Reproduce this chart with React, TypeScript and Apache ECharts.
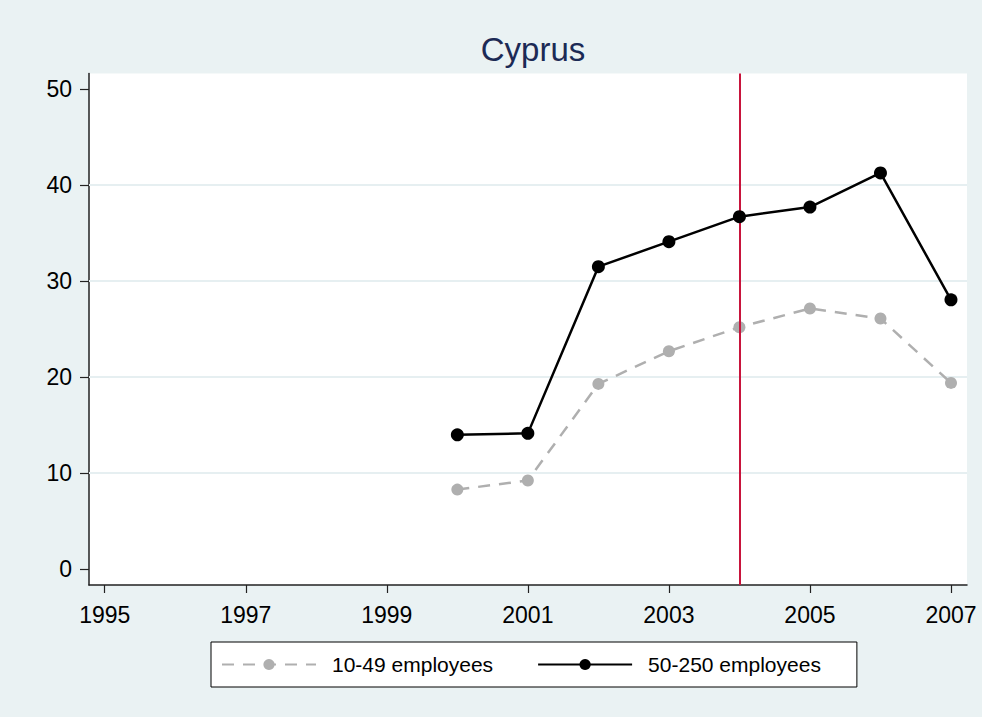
import React, { useEffect, useRef } from "react";
import * as echarts from "echarts";

const years = [2000, 2001, 2002, 2003, 2004, 2005, 2006, 2007];
const small = [8.3, 9.25, 19.3, 22.7, 25.2, 27.15, 26.1, 19.4];
const medium = [14.0, 14.15, 31.5, 34.1, 36.7, 37.7, 41.25, 28.05];
const xTicks = [1995, 1997, 1999, 2001, 2003, 2005, 2007];
const yTicks = [0, 10, 20, 30, 40, 50];
const gridValues = [10, 20, 30, 40];
const refYear = 2004;
const title = "Cyprus";
const names = ["10-49 employees", "50-250 employees"];

const FONT = "'Liberation Sans', Arial, Helvetica, sans-serif";

export default function App() {
  const ref = useRef<HTMLDivElement>(null);
  useEffect(() => {
    if (!ref.current) return;
    const chart = echarts.init(ref.current, null, { renderer: "svg" });
    chart.setOption({
      animation: false,
      backgroundColor: "#eaf2f3",
      textStyle: { fontFamily: FONT },
      title: {
        text: title,
        left: 528,
        top: 28,
        textAlign: "center",
        textStyle: { fontSize: 33, fontWeight: "normal", color: "#1c2a55", fontFamily: FONT },
      },
      grid: { left: 89, right: 15, top: 73.5, bottom: 132, containLabel: false, outerBoundsMode: "none", backgroundColor: "#fff", show: true, borderWidth: 0 },
      legend: {
        data: names,
        left: 211,
        top: 642,
        orient: "horizontal",
        backgroundColor: "#fff",
        borderColor: "#000",
        borderWidth: 1,
        borderRadius: 0,
        padding: [12, 36, 12, 10],
        itemWidth: 94,
        itemHeight: 14,
        itemGap: 44,
        textStyle: { fontSize: 21, color: "#000", fontFamily: FONT, padding: [0, 0, 0, 11] },
      },
      xAxis: {
        type: "value",
        min: 1994.777,
        max: 2007.227,
        axisLine: { show: true, onZero: false, lineStyle: { color: "#222", width: 1.5 } },
        axisTick: { show: true, length: 8, customValues: xTicks, lineStyle: { color: "#222", width: 1.2 } },
        axisLabel: { customValues: xTicks, formatter: (v: number) => String(v), fontSize: 23, color: "#000", margin: 18, fontFamily: FONT },
        splitLine: { show: false },
      },
      yAxis: {
        type: "value",
        min: -1.63,
        max: 51.6,
        axisLine: { show: true, onZero: false, lineStyle: { color: "#222", width: 1.5 } },
        axisTick: { show: true, length: 9, customValues: yTicks, lineStyle: { color: "#222", width: 1.2 } },
        axisLabel: { customValues: yTicks, formatter: (v: number) => String(v), fontSize: 23, color: "#000", margin: 17, fontFamily: FONT },
        splitLine: { show: false },
      },
      series: [
        {
          name: "grid",
          type: "line",
          data: [],
          z: 1,
          markLine: {
            silent: true,
            z: 1,
            symbol: "none",
            label: { show: false },
            lineStyle: { color: "#e6eff1", width: 2, type: "solid" },
            data: gridValues.map((v) => ({ yAxis: v })),
          },
        },
        {
          name: names[0],
          type: "line",
          z: 2,
          data: years.map((y, i) => [y, small[i]]),
          symbol: "circle",
          symbolSize: 12,
          itemStyle: { color: "#afafaf" },
          lineStyle: { color: "#afafaf", width: 2.5, type: [12, 9] },
        },
        {
          name: "ref",
          type: "line",
          data: [],
          z: 3,
          markLine: {
            silent: true,
            z: 3,
            symbol: "none",
            label: { show: false },
            lineStyle: { color: "#c8143c", width: 2, type: "solid" },
            data: [{ xAxis: refYear }],
          },
        },
        {
          name: names[1],
          type: "line",
          z: 4,
          data: years.map((y, i) => [y, medium[i]]),
          symbol: "circle",
          symbolSize: 13,
          itemStyle: { color: "#000" },
          lineStyle: { color: "#000", width: 2.5 },
        },
      ],
    });
    return () => chart.dispose();
  }, []);
  return (
    <div style={{ position: "fixed", left: 0, top: 0, width: 982, height: 717, background: "#eaf2f3" }}>
      <div ref={ref} style={{ width: 982, height: 717 }} />
    </div>
  );
}
